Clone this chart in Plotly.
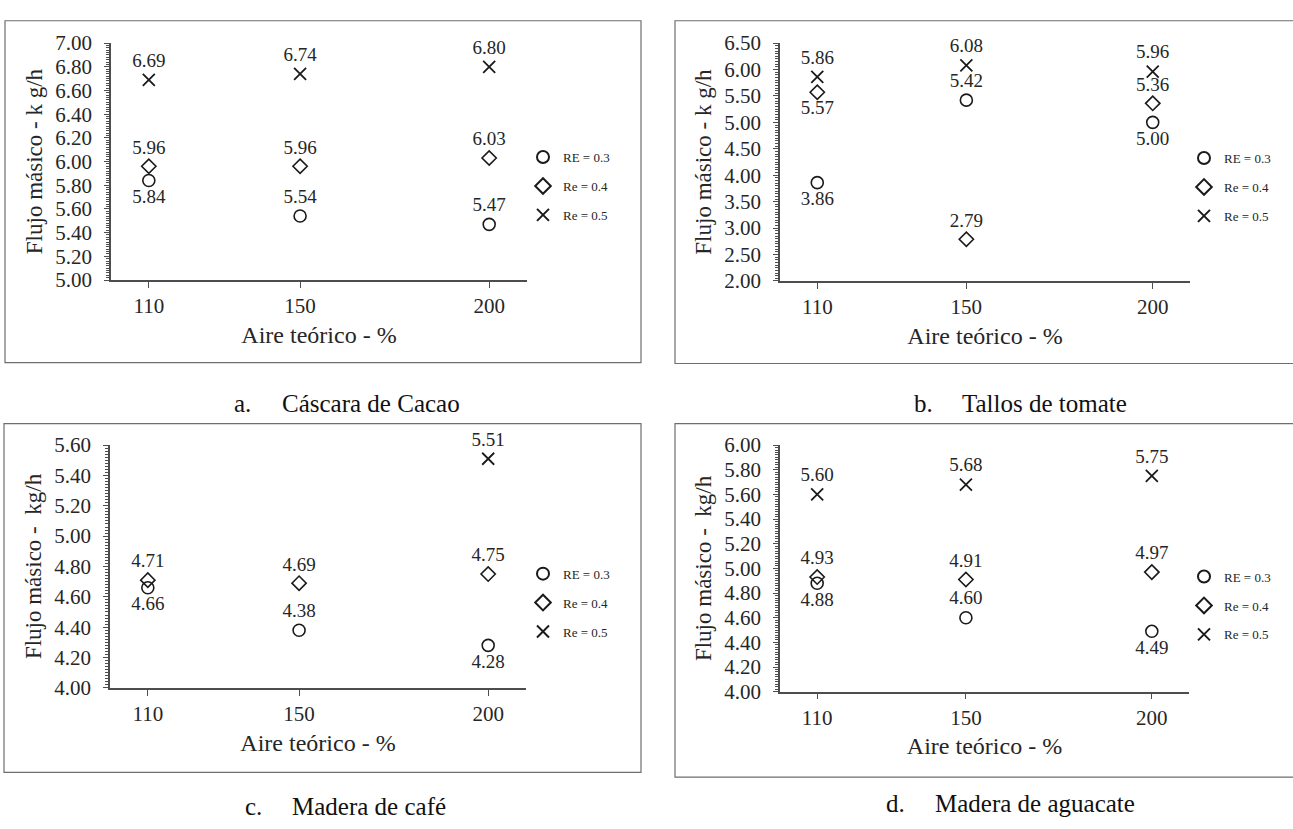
import plotly.graph_objects as go

# ---- data -------------------------------------------------------------
aire_teorico = [110, 150, 200]

cacao_re03 = [5.84, 5.54, 5.47]
cacao_re04 = [5.96, 5.96, 6.03]
cacao_re05 = [6.69, 6.74, 6.80]

tomate_re03 = [3.86, 5.42, 5.00]
tomate_re04 = [5.57, 2.79, 5.36]
tomate_re05 = [5.86, 6.08, 5.96]

cafe_re03 = [4.66, 4.38, 4.28]
cafe_re04 = [4.71, 4.69, 4.75]
cafe_re05 = [None, None, 5.51]

aguacate_re03 = [4.88, 4.60, 4.49]
aguacate_re04 = [4.93, 4.91, 4.97]
aguacate_re05 = [5.60, 5.68, 5.75]

series_names = ["RE = 0.3", "Re = 0.4", "Re = 0.5"]

# ---- page geometry (pixels) -------------------------------------------
W, H = 1293, 829
FONT = "Liberation Serif, Times New Roman, serif"
TXT = "#262626"
AX = "#4d4d4d"
MK = "#1a1a1a"


def fx(p):
    return p / W


def fy(p):
    return 1 - p / H


T, B = "top center", "bottom center"

panels = [
    dict(key="", leg="legend", series=[cacao_re03, cacao_re04, cacao_re05],
         pos=[[B, T, T], [T, T, T], [T, T, T]],
         xdom=(111, 527), ydom=(32, 276), yr=(5, 7), dt=0.2, mdt=0.02,
         ytitle="Flujo másico - k g/h", box=(5, 9, 641, 361),
         leg_xy=(523, 134), cap=("a.", "Cáscara de Cacao", 232, 280, 403)),
    dict(key="2", leg="legend2", series=[tomate_re03, tomate_re04, tomate_re05],
         pos=[[B, T, B], [B, T, T], [T, T, T]],
         xdom=(780, 1190), ydom=(32, 277), yr=(2, 6.5), dt=0.5, mdt=0.05,
         ytitle="Flujo másico - k g/h", box=(675, 9, 1300, 362),
         leg_xy=(1184, 135), cap=("b.", "Tallos de tomate", 912, 960, 403)),
    dict(key="3", leg="legend3", series=[cafe_re03, cafe_re04, cafe_re05],
         pos=[[B, T, B], [T, T, T], [T, T, T]],
         xdom=(110, 526), ydom=(446, 696), yr=(4, 5.6), dt=0.2, mdt=0.02,
         ytitle="Flujo másico -\u00a0\u00a0kg/h", box=(4, 424, 641, 783),
         leg_xy=(523, 563), cap=("c.", "Madera de café", 243, 290, 818)),
    dict(key="4", leg="legend4", series=[aguacate_re03, aguacate_re04, aguacate_re05],
         pos=[[B, T, B], [T, T, T], [T, T, T]],
         xdom=(780, 1189), ydom=(446, 700), yr=(4, 6), dt=0.2, mdt=0.02,
         ytitle="Flujo másico -\u00a0\u00a0kg/h", box=(675, 424, 1300, 788),
         leg_xy=(1184, 566), cap=("d.", "Madera de aguacate", 884, 933, 815)),
]

markers = [
    dict(symbol="circle-open", size=12, line=dict(width=1.6, color=MK), color=MK),
    dict(symbol="diamond-open", size=11, line=dict(width=1.6, color=MK), color=MK),
    dict(symbol="x-thin-open", size=12, line=dict(width=1.8, color=MK), color=MK),
]

fig = go.Figure()
layout = dict(
    width=W, height=H,
    margin=dict(l=0, r=0, t=0, b=0),
    paper_bgcolor="white", plot_bgcolor="white",
    font=dict(family=FONT, color=TXT),
    shapes=[], annotations=[],
)

for p in panels:
    k = p["key"]
    xa, ya = "x" + k, "y" + k
    for name, vals, m, tp in zip(series_names, p["series"], markers, p["pos"]):
        fig.add_trace(go.Scatter(
            x=aire_teorico, y=vals, name=name, mode="markers+text",
            xaxis=xa, yaxis=ya, marker=m,
            text=[None if v is None else f"{v:.2f}" for v in vals],
            textposition=tp,
            textfont=dict(family=FONT, size=19, color=TXT),
            cliponaxis=False,
            legend=p["leg"], legendgroup=p["leg"] + name,
        ))

    layout["xaxis" + k] = dict(
        domain=[fx(p["xdom"][0]), fx(p["xdom"][1])], anchor=ya,
        range=[100, 210], tickvals=aire_teorico,
        showline=True, linecolor=AX, linewidth=1.5,
        ticks="outside", ticklen=6, tickcolor=AX, tickwidth=1,
        showgrid=False, zeroline=False,
        tickfont=dict(family=FONT, size=21, color=TXT),
        ticklabelstandoff=0,
        title=dict(text="Aire teórico - %", font=dict(family=FONT, size=24, color=TXT),
                   standoff=9),
    )
    layout["yaxis" + k] = dict(
        domain=[fy(p["ydom"][1]), fy(p["ydom"][0])], anchor=xa,
        range=list(p["yr"]), dtick=p["dt"], tick0=p["yr"][0], tickformat=".2f",
        showline=True, linecolor=AX, linewidth=1.5,
        ticks="outside", ticklen=5, tickcolor=AX, tickwidth=1,
        minor=dict(dtick=p["mdt"], ticks="outside", ticklen=3, tickcolor=AX, tickwidth=1),
        showgrid=False, zeroline=False,
        tickfont=dict(family=FONT, size=21, color=TXT),
        ticklabelstandoff=8,
        title=dict(text=p["ytitle"], font=dict(family=FONT, size=23, color=TXT),
                   standoff=6),
    )
    layout[p["leg"]] = dict(
        x=fx(p["leg_xy"][0]), y=fy(p["leg_xy"][1]), xanchor="left", yanchor="top",
        font=dict(family=FONT, size=13, color=TXT),
        bgcolor="rgba(0,0,0,0)", borderwidth=0,
        itemsizing="constant", tracegroupgap=9, itemwidth=30,
    )

    x0, y0, x1, y1 = p["box"]
    layout["shapes"].append(dict(
        type="rect", xref="paper", yref="paper",
        x0=fx(x0), x1=fx(x1), y0=fy(y1), y1=fy(y0),
        line=dict(color="#6e6e6e", width=1.2), fillcolor="rgba(0,0,0,0)", layer="below",
    ))

    letter, caption, lx, cx, cy = p["cap"]
    for txt, xpos in ((letter, lx), (caption, cx)):
        layout["annotations"].append(dict(
            text=txt, xref="paper", yref="paper", x=fx(xpos), y=fy(cy),
            xanchor="left", yanchor="middle", showarrow=False,
            font=dict(family=FONT, size=25, color="#111111"),
        ))

fig.update_layout(**layout)
fig.write_html("out.html")
